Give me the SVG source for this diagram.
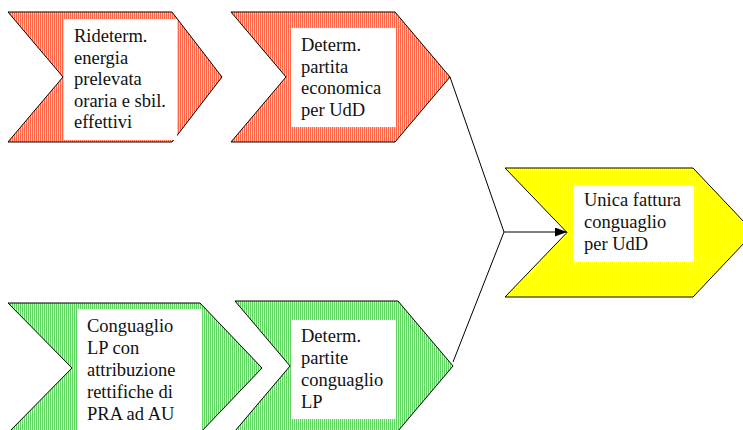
<svg xmlns="http://www.w3.org/2000/svg" width="743" height="430" viewBox="0 0 743 430">
  <defs>
    <!-- vertical hatch fills for the process chevrons -->
    <pattern id="hatch-red" patternUnits="userSpaceOnUse" width="2" height="8">
      <rect x="0" y="0" width="1" height="8" fill="#FF6648"/>
      <rect x="1" y="0" width="1" height="8" fill="#FFC8B4"/>
    </pattern>
    <pattern id="hatch-green" patternUnits="userSpaceOnUse" width="2" height="8">
      <rect x="0" y="0" width="1" height="8" fill="#5FD35F"/>
      <rect x="1" y="0" width="1" height="8" fill="#CDF7CD"/>
    </pattern>
    <pattern id="hatch-yellow" patternUnits="userSpaceOnUse" width="2" height="8">
      <rect x="0" y="0" width="1" height="8" fill="#FFFF00"/>
      <rect x="1" y="0" width="1" height="8" fill="#FFFFC8"/>
    </pattern>
    <marker id="arrow" markerWidth="12" markerHeight="9" refX="12" refY="4.5" orient="auto" markerUnits="userSpaceOnUse">
      <path d="M0,0 L12,4.5 L0,9 Z" fill="#000"/>
    </marker>
  </defs>
  <style>
    .chev { stroke: #000; stroke-width: 1; }
    .red { fill: url(#hatch-red); }
    .green { fill: url(#hatch-green); }
    .yellow { fill: url(#hatch-yellow); }
    .box { fill: #fff; }
    .lbl { font-family: "Liberation Serif", "Times New Roman", serif; font-size: 18.5px; fill: #111; }
    .conn { stroke: #000; stroke-width: 1; fill: none; }
  </style>

  <rect width="743" height="430" fill="#fff"/>

  <g id="node-rideterm">
    <polygon class="chev red" points="8,12 172,12 222,77 172,142 8,142 63,77"/>
    <rect class="box" x="64" y="19" width="113" height="121"/>
    <text class="lbl" x="74" y="42">
      <tspan x="74">Rideterm.</tspan>
      <tspan x="74" dy="21.5">energia</tspan>
      <tspan x="74" dy="21.5">prelevata</tspan>
      <tspan x="74" dy="21.5">oraria e sbil.</tspan>
      <tspan x="74" dy="21.5">effettivi</tspan>
    </text>
  </g>

  <g id="node-partita-economica">
    <polygon class="chev red" points="231,12 395,12 450,77 395,142 231,142 286,77"/>
    <rect class="box" x="291" y="28" width="105" height="99"/>
    <text class="lbl" x="301" y="51">
      <tspan x="301">Determ.</tspan>
      <tspan x="301" dy="21.7">partita</tspan>
      <tspan x="301" dy="21.7">economica</tspan>
      <tspan x="301" dy="21.7">per UdD</tspan>
    </text>
  </g>

  <g id="node-fattura">
    <polygon class="chev yellow" points="505,168 693,168 754,232.5 693,297 505,297 567,232.5"/>
    <rect class="box" x="573" y="185" width="121" height="77"/>
    <text class="lbl" x="584" y="206">
      <tspan x="584">Unica fattura</tspan>
      <tspan x="584" dy="22">conguaglio</tspan>
      <tspan x="584" dy="22">per UdD</tspan>
    </text>
  </g>

  <g id="node-conguaglio-lp">
    <polygon class="chev green" points="8,303 200,303 262,368 200,433 8,433 72,368"/>
    <rect class="box" x="78" y="309" width="124" height="125"/>
    <text class="lbl" x="87" y="332">
      <tspan x="87">Conguaglio</tspan>
      <tspan x="87" dy="22">LP con</tspan>
      <tspan x="87" dy="22">attribuzione</tspan>
      <tspan x="87" dy="22">rettifiche di</tspan>
      <tspan x="87" dy="22">PRA ad AU</tspan>
    </text>
  </g>

  <g id="node-partite-conguaglio">
    <polygon class="chev green" points="235,301 398,301 453,366 398,431 235,431 290,366"/>
    <rect class="box" x="291" y="320" width="105" height="99"/>
    <text class="lbl" x="301" y="342">
      <tspan x="301">Determ.</tspan>
      <tspan x="301" dy="22">partite</tspan>
      <tspan x="301" dy="22">conguaglio</tspan>
      <tspan x="301" dy="22">LP</tspan>
    </text>
  </g>

  <g id="connectors">
    <line class="conn" x1="450" y1="77" x2="504" y2="232"/>
    <line class="conn" x1="453" y1="362" x2="504" y2="232"/>
    <line class="conn" x1="504" y1="232" x2="567" y2="232" marker-end="url(#arrow)"/>
  </g>
</svg>
